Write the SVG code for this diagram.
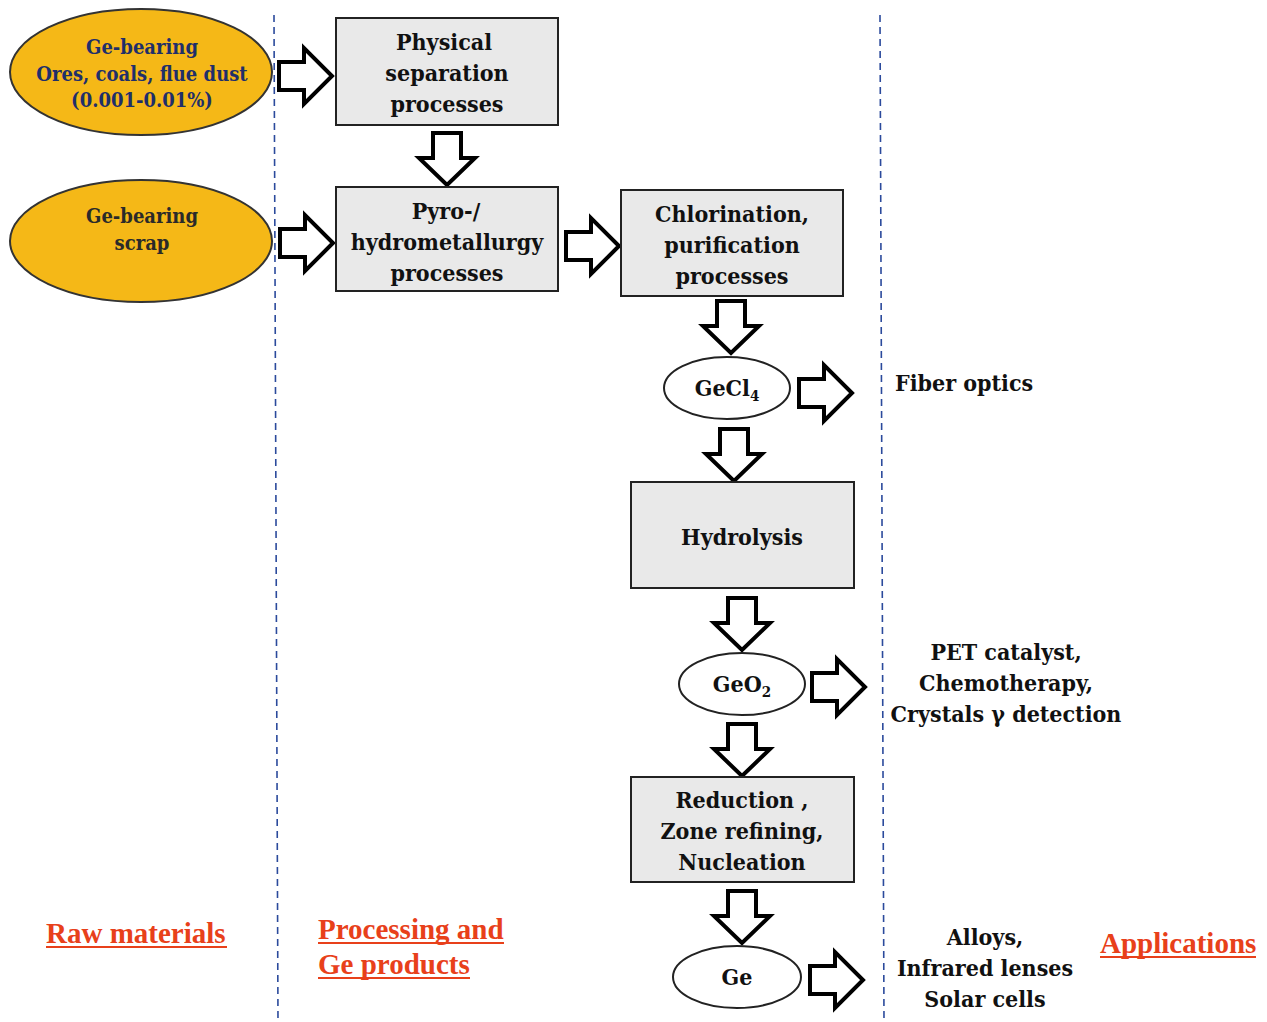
<svg xmlns="http://www.w3.org/2000/svg" width="1267" height="1022" viewBox="0 0 1267 1022">
<defs>
<style>
.box{fill:#e9e9e9;stroke:#222;stroke-width:2}
.oval{fill:#fff;stroke:#222;stroke-width:2}
.gold{fill:#f5b817;stroke:#333;stroke-width:2}
.arr{fill:#fff;stroke:#000;stroke-width:4;stroke-linejoin:miter}
.t{font-family:"DejaVu Serif Condensed","DejaVu Serif",serif;font-stretch:condensed;font-weight:bold;font-size:23px;fill:#111;text-anchor:middle}
.e{font-family:"DejaVu Serif Condensed","DejaVu Serif",serif;font-stretch:condensed;font-weight:bold;font-size:20px;text-anchor:middle}
.r{font-family:"Liberation Serif",serif;font-weight:bold;font-size:29px;fill:#e8401a}
.ul{stroke:#e8401a;stroke-width:2}
.dash{stroke:#2b4a9c;stroke-width:1.6;stroke-dasharray:7 5;fill:none}
</style>
<path id="ra" d="M0,-14 H25 V-28 L53,0 L25,28 V14 H0 Z"/>
<path id="da" d="M-14,0 V25 H-28 L0,52 L28,25 H14 V0 Z"/>
</defs>
<rect width="1267" height="1022" fill="#fff"/>

<g id="dividers">
<line class="dash" x1="274" y1="15" x2="278" y2="1022"/>
<line class="dash" x1="880" y1="15" x2="884" y2="1022"/>
</g>

<g id="connectors">
<use href="#ra" class="arr" x="279" y="76"/>
<use href="#ra" class="arr" x="280" y="243"/>
<use href="#ra" class="arr" x="566" y="246"/>
<use href="#da" class="arr" x="447" y="133"/>
<use href="#da" class="arr" x="731" y="301"/>
<use href="#ra" class="arr" x="799" y="393"/>
<use href="#da" class="arr" x="734" y="429"/>
<use href="#da" class="arr" x="742" y="598"/>
<use href="#ra" class="arr" x="812" y="687"/>
<use href="#da" class="arr" x="742" y="724"/>
<use href="#da" class="arr" x="742" y="891"/>
<use href="#ra" class="arr" x="810" y="980"/>
</g>

<g id="ores">
<ellipse class="gold" cx="141" cy="72" rx="131" ry="63"/>
<text class="e" fill="#1f2f6a"><tspan x="142" y="54">Ge-bearing</tspan><tspan x="142" y="81">Ores, coals, flue dust</tspan><tspan x="142" y="107">(0.001-0.01%)</tspan></text>
</g>
<g id="scrap">
<ellipse class="gold" cx="141" cy="241" rx="131" ry="61"/>
<text class="e" fill="#2a2a2a"><tspan x="142" y="223">Ge-bearing</tspan><tspan x="142" y="250">scrap</tspan></text>
</g>

<g id="physical">
<rect class="box" x="336" y="18" width="222" height="107"/>
<text class="t"><tspan x="444" y="50">Physical</tspan><tspan x="447" y="81">separation</tspan><tspan x="447" y="112">processes</tspan></text>
</g>
<g id="pyro">
<rect class="box" x="336" y="187" width="222" height="104"/>
<text class="t"><tspan x="446" y="219">Pyro-/</tspan><tspan x="447" y="250">hydrometallurgy</tspan><tspan x="447" y="281">processes</tspan></text>
</g>
<g id="chlorination">
<rect class="box" x="621" y="190" width="222" height="106"/>
<text class="t"><tspan x="732" y="222">Chlorination,</tspan><tspan x="732" y="253">purification</tspan><tspan x="732" y="284">processes</tspan></text>
</g>
<g id="gecl4">
<ellipse class="oval" cx="727" cy="388" rx="63" ry="31"/>
<text class="t" x="727" y="396">GeCl<tspan font-size="15" dy="5">4</tspan></text>
</g>
<g id="hydrolysis">
<rect class="box" x="631" y="482" width="223" height="106"/>
<text class="t" x="742" y="545">Hydrolysis</text>
</g>
<g id="geo2">
<ellipse class="oval" cx="742" cy="684" rx="63" ry="31"/>
<text class="t" x="742" y="692">GeO<tspan font-size="15" dy="5">2</tspan></text>
</g>
<g id="reduction">
<rect class="box" x="631" y="777" width="223" height="105"/>
<text class="t"><tspan x="742" y="808">Reduction ,</tspan><tspan x="742" y="839">Zone refining,</tspan><tspan x="742" y="870">Nucleation</tspan></text>
</g>
<g id="ge">
<ellipse class="oval" cx="737" cy="977" rx="64" ry="31"/>
<text class="t" x="737" y="985">Ge</text>
</g>

<g id="fiber">
<text class="t" x="895" y="391" style="text-anchor:start">Fiber optics</text>
</g>
<g id="pet">
<text class="t"><tspan x="1006" y="660">PET catalyst,</tspan><tspan x="1006" y="691">Chemotherapy,</tspan><tspan x="1006" y="722">Crystals γ detection</tspan></text>
</g>
<g id="alloys">
<text class="t"><tspan x="985" y="945">Alloys,</tspan><tspan x="985" y="976">Infrared lenses</tspan><tspan x="985" y="1007">Solar cells</tspan></text>
</g>

<g id="labels">
<text class="r" x="46" y="943">Raw materials</text>
<line class="ul" x1="46" y1="947" x2="227" y2="947"/>
<text class="r" x="318" y="939">Processing and</text>
<line class="ul" x1="318" y1="943" x2="504" y2="943"/>
<text class="r" x="318" y="974">Ge products</text>
<line class="ul" x1="318" y1="978" x2="470" y2="978"/>
<text class="r" x="1100" y="953">Applications</text>
<line class="ul" x1="1100" y1="957" x2="1256" y2="957"/>
</g>
</svg>
